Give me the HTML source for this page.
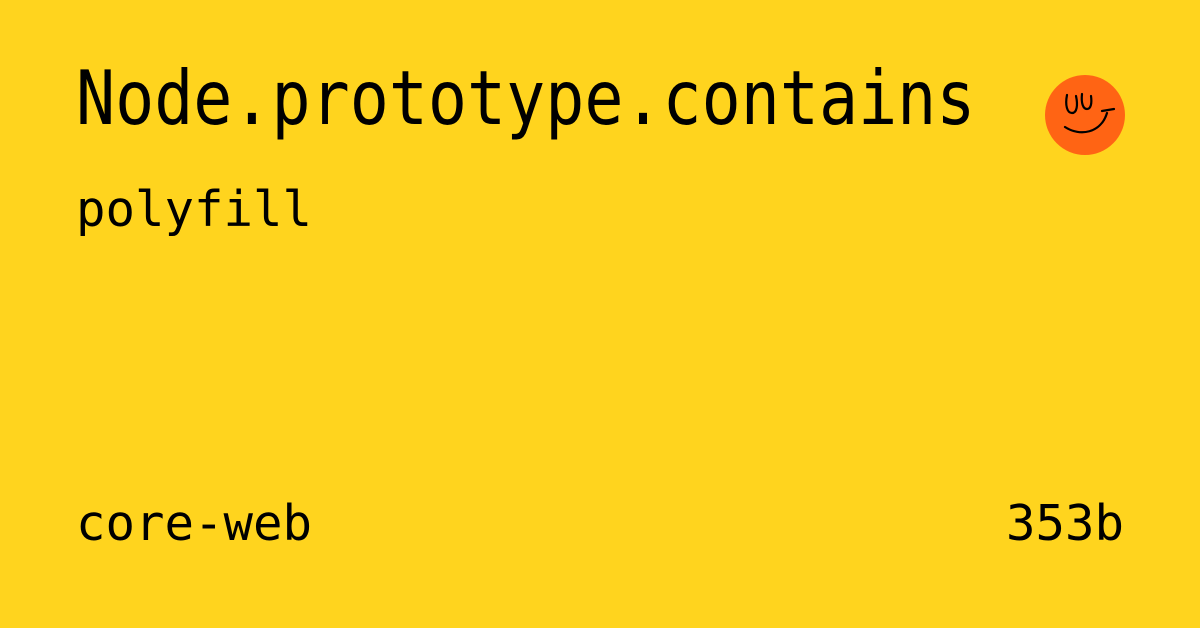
<!DOCTYPE html>
<html><head><style>
html,body{margin:0;padding:0}
body{width:1200px;height:628px;background:#ffd41e;position:relative;overflow:hidden;font-family:"DejaVu Sans Mono","Liberation Mono",monospace;color:#000}
.t{position:absolute;white-space:nowrap;line-height:1}
</style></head><body>
<div class="t" style="left:76px;top:61px;font-size:75px;transform:scaleX(0.866);transform-origin:0 0">Node.prototype.contains</div>
<div class="t" style="left:76px;top:185px;font-size:49px">polyfill</div>
<div class="t" style="left:76px;top:499px;font-size:49px">core-web</div>
<div class="t" style="right:76px;top:499px;font-size:49px">353b</div>
<svg style="position:absolute;left:1045px;top:75px" width="80" height="80" viewBox="0 0 80 80">
<circle cx="40" cy="40" r="40" fill="#ff6414"/>
<path d="M22 20 C20 30 22 38 27 38 C32 38 33 30 31 21" fill="none" stroke="#000" stroke-width="2.2" stroke-linecap="round"/>
<path d="M37 19 C36 28 38 34 42 34 C46 34 47 28 46 21" fill="none" stroke="#000" stroke-width="2.2" stroke-linecap="round"/>
<path d="M20 52 C35 62 56 58 62 38" fill="none" stroke="#000" stroke-width="2.2" stroke-linecap="round"/>
<path d="M57 36 L69 34" fill="none" stroke="#000" stroke-width="2.2" stroke-linecap="round"/>
</svg>
</body></html>
